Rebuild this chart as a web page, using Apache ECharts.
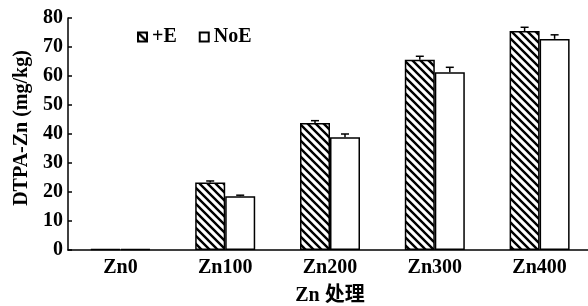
<!DOCTYPE html>
<html>
<head>
<meta charset="utf-8">
<script src="https://cdn.jsdelivr.net/npm/echarts@6/dist/echarts.min.js"></script>
<style>
  html, body { margin: 0; padding: 0; background: #fff; }
  #main { width: 588px; height: 306px; }
</style>
</head>
<body>
<div id="main"></div>
<script>
// 数据
var categories = ['Zn0', 'Zn100', 'Zn200', 'Zn300', 'Zn400'];
var withE = [0.3, 23.3, 43.8, 65.6, 75.5];
var withEErr = [0, 0.5, 0.8, 1.2, 1.3];
var noE = [0.3, 18.5, 38.9, 61.3, 72.8];
var noEErr = [0, 0.4, 1.1, 1.7, 1.4];
var yTicks = [0, 10, 20, 30, 40, 50, 60, 70, 80];

var font = 'Liberation Serif, Times New Roman, serif';

// 斜线填充
function hatch() {
    var s = 8;
    var c = document.createElement('canvas');
    c.width = s; c.height = s;
    var ctx = c.getContext('2d');
    ctx.fillStyle = '#fff';
    ctx.fillRect(0, 0, s, s);
    ctx.strokeStyle = '#000';
    ctx.lineWidth = 2.4;
    ctx.beginPath();
    ctx.moveTo(-1, -1); ctx.lineTo(s + 1, s + 1);
    ctx.moveTo(-1, s - 1); ctx.lineTo(1, s + 1);
    ctx.moveTo(s - 1, -1); ctx.lineTo(s + 1, 1);
    ctx.stroke();
    return c;
}

var barW = 30;

function errRender(offset) {
    return function (params, api) {
        var x = api.value(0), v = api.value(1), e = api.value(2);
        if (!e) return null;
        var top = api.coord([x, v]);
        var hi = api.coord([x, v + e]);
        var cx = top[0] + offset;
        var st = { stroke: '#000', lineWidth: 1.5 };
        return {
            type: 'group',
            children: [
                { type: 'line', shape: { x1: cx, y1: top[1], x2: cx, y2: hi[1] }, style: st },
                { type: 'line', shape: { x1: cx - 4, y1: hi[1], x2: cx + 4, y2: hi[1] }, style: st }
            ]
        };
    };
}

var lbl = { fontFamily: font, fontSize: 20, fontWeight: 'bold', color: '#000' };

var myChart = echarts.init(document.getElementById('main'));
myChart.setOption({
    animation: false,
    textStyle: { fontFamily: font, color: '#000' },
    grid: { left: 68, right: -4, top: 18, bottom: 56, containLabel: false, outerBoundsMode: 'none' },
    legend: {
        left: 132, top: 22,
        itemWidth: 9, itemHeight: 9, itemGap: 22,
        icon: 'rect',
        textStyle: lbl,
        data: ['+E', 'NoE']
    },
    xAxis: {
        type: 'category',
        data: categories,
        name: 'Zn 处理',
        nameLocation: 'middle',
        nameGap: 36,
        nameTextStyle: { fontFamily: font + ', Noto Sans CJK SC', fontSize: 20, fontWeight: 'bold', color: '#000' },
        axisLine: { lineStyle: { color: '#000', width: 1.5 } },
        axisTick: { inside: true, length: 4, lineStyle: { color: '#000', width: 1.5 } },
        axisLabel: Object.assign({ margin: 8 }, lbl)
    },
    yAxis: {
        type: 'value',
        min: yTicks[0], max: yTicks[yTicks.length - 1], interval: 10,
        name: 'DTPA-Zn (mg/kg)',
        nameLocation: 'middle',
        nameRotate: 90,
        nameGap: 36,
        nameTextStyle: { fontFamily: font, fontSize: 20, fontWeight: 'bold', color: '#000', padding: [0, 0, 0, 12] },
        splitLine: { show: false },
        axisLine: { show: true, lineStyle: { color: '#000', width: 1.5 } },
        axisTick: { show: true, inside: true, length: 4, lineStyle: { color: '#000', width: 1.5 } },
        axisLabel: Object.assign({ margin: 5 }, lbl)
    },
    series: [
        {
            name: '+E', type: 'bar', data: withE, barWidth: barW, barGap: '0%',
            itemStyle: { color: { image: hatch(), repeat: 'repeat' }, borderColor: '#000', borderWidth: 1.5 }
        },
        {
            name: 'NoE', type: 'bar', data: noE, barWidth: barW,
            itemStyle: { color: '#fff', borderColor: '#000', borderWidth: 1.5 }
        },
        {
            type: 'custom', renderItem: errRender(-barW / 2), z: 5,
            data: withE.map(function (v, i) { return [i, v, withEErr[i]]; })
        },
        {
            type: 'custom', renderItem: errRender(barW / 2), z: 5,
            data: noE.map(function (v, i) { return [i, v, noEErr[i]]; })
        }
    ]
});
</script>
</body>
</html>
